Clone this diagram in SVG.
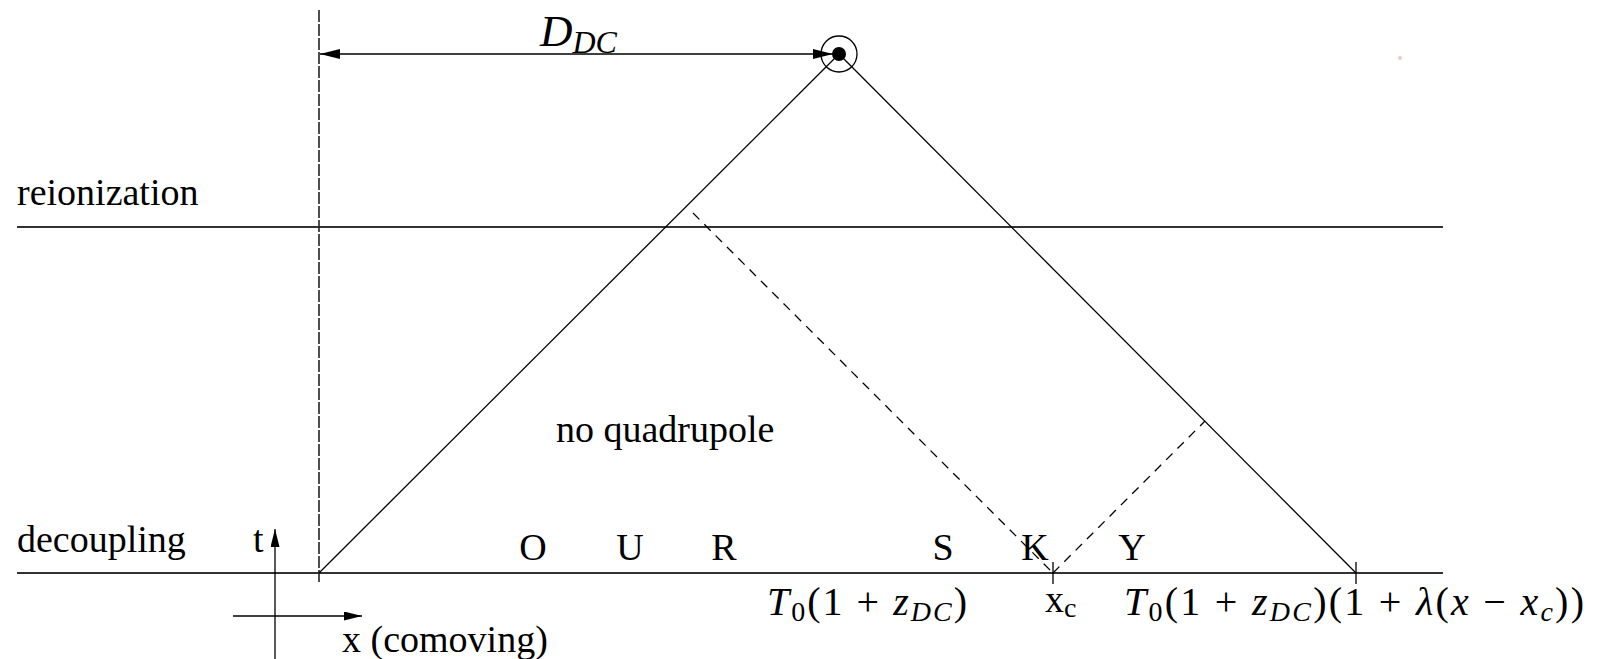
<svg xmlns="http://www.w3.org/2000/svg" width="1599" height="659" viewBox="0 0 1599 659">
<style>
text{font-family:"Liberation Serif","Times New Roman",serif;fill:#000}
.lbl{font-size:38px}
.m{font-size:40px}
.i{font-style:italic}
.sub{font-size:28px}
.hl{stroke:#333;stroke-width:2;fill:none}
.ln{stroke:#000;stroke-width:1.3;fill:none}
.dash{stroke:#000;stroke-width:1.3;fill:none;stroke-dasharray:9 7}
.vdash{stroke:#222;stroke-width:1.6;fill:none;stroke-dasharray:12 2}
</style>
<defs>
<marker id="ah" viewBox="0 0 20 10" refX="20" refY="5" markerWidth="20" markerHeight="10" markerUnits="userSpaceOnUse" orient="auto-start-reverse">
<path d="M0,0 L20,5 L0,10 Z" fill="#000"/>
</marker>
<marker id="ax" viewBox="0 0 20 10" refX="20" refY="5" markerWidth="20" markerHeight="9" markerUnits="userSpaceOnUse" orient="auto">
<path d="M0,0 L20,5 L0,10 Z" fill="#000"/>
</marker>
</defs>
<rect width="1599" height="659" fill="#fff"/>
<g id="connectors">
<line class="hl" x1="17" y1="227" x2="1443" y2="227"/>
<line class="hl" x1="17" y1="573" x2="1443" y2="573"/>
<line class="vdash" x1="319" y1="10" x2="319" y2="584"/>
<line class="ln" x1="319" y1="573" x2="839" y2="54"/>
<line class="ln" x1="839" y1="54" x2="1356" y2="573"/>
<line class="dash" x1="693" y1="213" x2="1053" y2="573"/>
<line class="dash" x1="1053" y1="573" x2="1205" y2="421"/>
<line class="ln" x1="1053" y1="562" x2="1053" y2="584"/>
<line class="ln" x1="1356" y1="562" x2="1356" y2="584"/>
<line class="ln" x1="320" y1="54" x2="833" y2="54" marker-start="url(#ah)" marker-end="url(#ah)"/>
<line class="ln" x1="275" y1="659" x2="275" y2="529" marker-end="url(#ax)"/>
<line class="ln" x1="233" y1="616" x2="362" y2="616" marker-end="url(#ax)"/>
</g>
<g id="observer">
<circle cx="839" cy="54" r="18" fill="none" stroke="#000" stroke-width="1.3"/>
<circle cx="839" cy="54" r="7" fill="#000"/>
</g>
<g id="dc-label">
<text x="540" y="46" style="font-size:45px"><tspan class="i">D</tspan><tspan class="i" style="font-size:32px" dy="7">DC</tspan></text>
</g>
<g id="epoch-labels">
<text class="lbl" x="17" y="205">reionization</text>
<text class="lbl" x="17" y="552">decoupling</text>
</g>
<g id="axes-labels">
<text class="lbl" x="253" y="552">t</text>
<text class="lbl" x="342" y="652">x (comoving)</text>
</g>
<g id="region-label">
<text class="lbl" x="556" y="442">no quadrupole</text>
</g>
<g id="our-sky" class="lbl" text-anchor="middle">
<text class="lbl" x="533" y="560">O</text>
<text class="lbl" x="630" y="560">U</text>
<text class="lbl" x="724" y="560">R</text>
<text class="lbl" x="943" y="560">S</text>
<text class="lbl" x="1035" y="560">K</text>
<text class="lbl" x="1132" y="560">Y</text>
</g>
<g id="formulas">
<text class="m" x="767" y="615" textLength="200" lengthAdjust="spacing"><tspan class="i">T</tspan><tspan class="sub" dy="6">0</tspan><tspan dy="-6">(1 + </tspan><tspan class="i">z</tspan><tspan class="sub i" dy="6">DC</tspan><tspan dy="-6">)</tspan></text>
<text class="lbl" x="1045" y="612">x<tspan class="sub" dy="5">c</tspan></text>
<text class="m" x="1124" y="615" textLength="460" lengthAdjust="spacing"><tspan class="i">T</tspan><tspan class="sub" dy="6">0</tspan><tspan dy="-6">(1 + </tspan><tspan class="i">z</tspan><tspan class="sub i" dy="6">DC</tspan><tspan dy="-6">)(1 + </tspan><tspan class="i">λ</tspan><tspan>(</tspan><tspan class="i">x</tspan><tspan> − </tspan><tspan class="i">x</tspan><tspan class="sub i" dy="6">c</tspan><tspan dy="-6">))</tspan></text>
</g>
<circle cx="1400" cy="58" r="2" fill="#f6c4c4"/>
</svg>
